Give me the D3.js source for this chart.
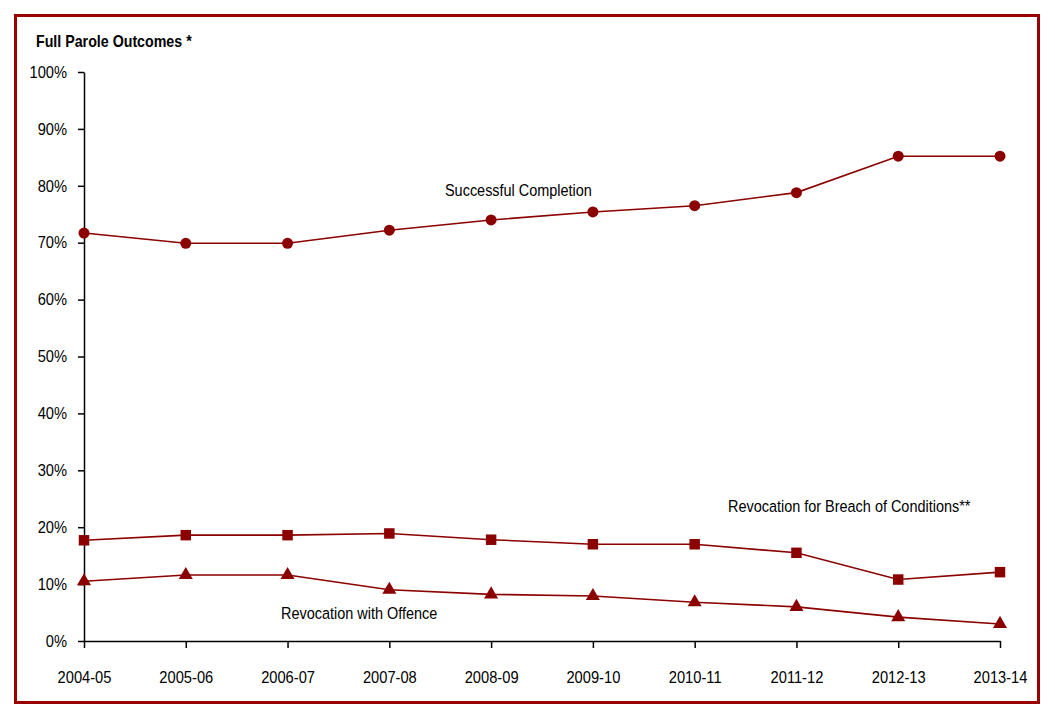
<!DOCTYPE html>
<html>
<head>
<meta charset="utf-8">
<script src="https://cdn.jsdelivr.net/npm/d3@7"></script>
<style>
  html, body { margin: 0; padding: 0; background: #fff; }
  svg text { font-family: "Liberation Sans Narrow", "Arial Narrow", "Liberation Sans", Arial, sans-serif; fill: #000; }
</style>
</head>
<body>
<svg id="chart" width="1055" height="719"></svg>
<script>
const categories = ["2004-05","2005-06","2006-07","2007-08","2008-09","2009-10","2010-11","2011-12","2012-13","2013-14"];
const successful = [71.7, 69.9, 69.9, 72.2, 74.0, 75.4, 76.5, 78.8, 85.2, 85.2];
const breach = [17.7, 18.6, 18.6, 18.9, 17.8, 17.0, 17.0, 15.5, 10.8, 12.1];
const offence = [10.5, 11.6, 11.6, 9.0, 8.2, 7.9, 6.8, 6.0, 4.2, 3.0];
const yTicks = [0, 10, 20, 30, 40, 50, 60, 70, 80, 90, 100];

const color = "#8B0000";
const svg = d3.select("#chart");

// horizontally condense a text element around its anchor point
function condense(sel, k) {
  sel.each(function() {
    const t = d3.select(this);
    const tx = +(t.attr("x") || 0), ty = +(t.attr("y") || 0);
    t.attr("transform", `translate(${tx},${ty}) scale(${k},1) translate(${-tx},${-ty})`);
  });
}

svg.append("rect").attr("x", 15.5).attr("y", 15.5).attr("width", 1023).attr("height", 687)
  .attr("fill", "none").attr("stroke", "#990000").attr("stroke-width", 3);

const x = d3.scalePoint().domain(categories).range([84, 1000]);
const y = d3.scaleLinear().domain([0, 100]).range([641, 72]);

svg.append("text").attr("x", 36).attr("y", 47).attr("font-size", 16).attr("font-weight", "bold")
  .text("Full Parole Outcomes *").call(condense, 0.89);

const yAxis = svg.append("g").attr("transform", "translate(84,0)")
  .call(d3.axisLeft(y).tickValues(yTicks).tickSize(6).tickSizeOuter(0).tickPadding(11).tickFormat(d => d + "%"));
const xAxis = svg.append("g").attr("transform", "translate(0,641)")
  .call(d3.axisBottom(x).tickSize(7).tickSizeOuter(0).tickPadding(23));
[yAxis, xAxis].forEach(g => {
  g.select(".domain").attr("stroke", "#000").attr("stroke-width", 1.5);
  g.selectAll(".tick line").attr("stroke", "#000").attr("stroke-width", 1.5);
  g.selectAll(".tick text").attr("font-size", 16.5).attr("fill", "#000").call(condense, 0.89);
});

const line = d3.line().x((d, i) => x(categories[i])).y(d => y(d));
const series = [
  { data: successful, symbol: d3.symbolCircle, size: 95 },
  { data: breach, symbol: d3.symbolSquare, size: 110 },
  { data: offence, symbol: d3.symbolTriangle, size: 85 }
];
series.forEach(s => {
  svg.append("path").datum(s.data).attr("d", line)
    .attr("fill", "none").attr("stroke", color).attr("stroke-width", 1.6);
  svg.append("g").selectAll("path").data(s.data).join("path")
    .attr("transform", (d, i) => `translate(${x(categories[i])},${y(d)})`)
    .attr("d", d3.symbol().type(s.symbol).size(s.size))
    .attr("fill", color);
});

svg.append("text").attr("x", 445).attr("y", 196).attr("font-size", 17).text("Successful Completion").call(condense, 0.85);
svg.append("text").attr("x", 728).attr("y", 512).attr("font-size", 17).text("Revocation for Breach of Conditions**").call(condense, 0.85);
svg.append("text").attr("x", 281).attr("y", 619).attr("font-size", 17).text("Revocation with Offence").call(condense, 0.85);
</script>
</body>
</html>
